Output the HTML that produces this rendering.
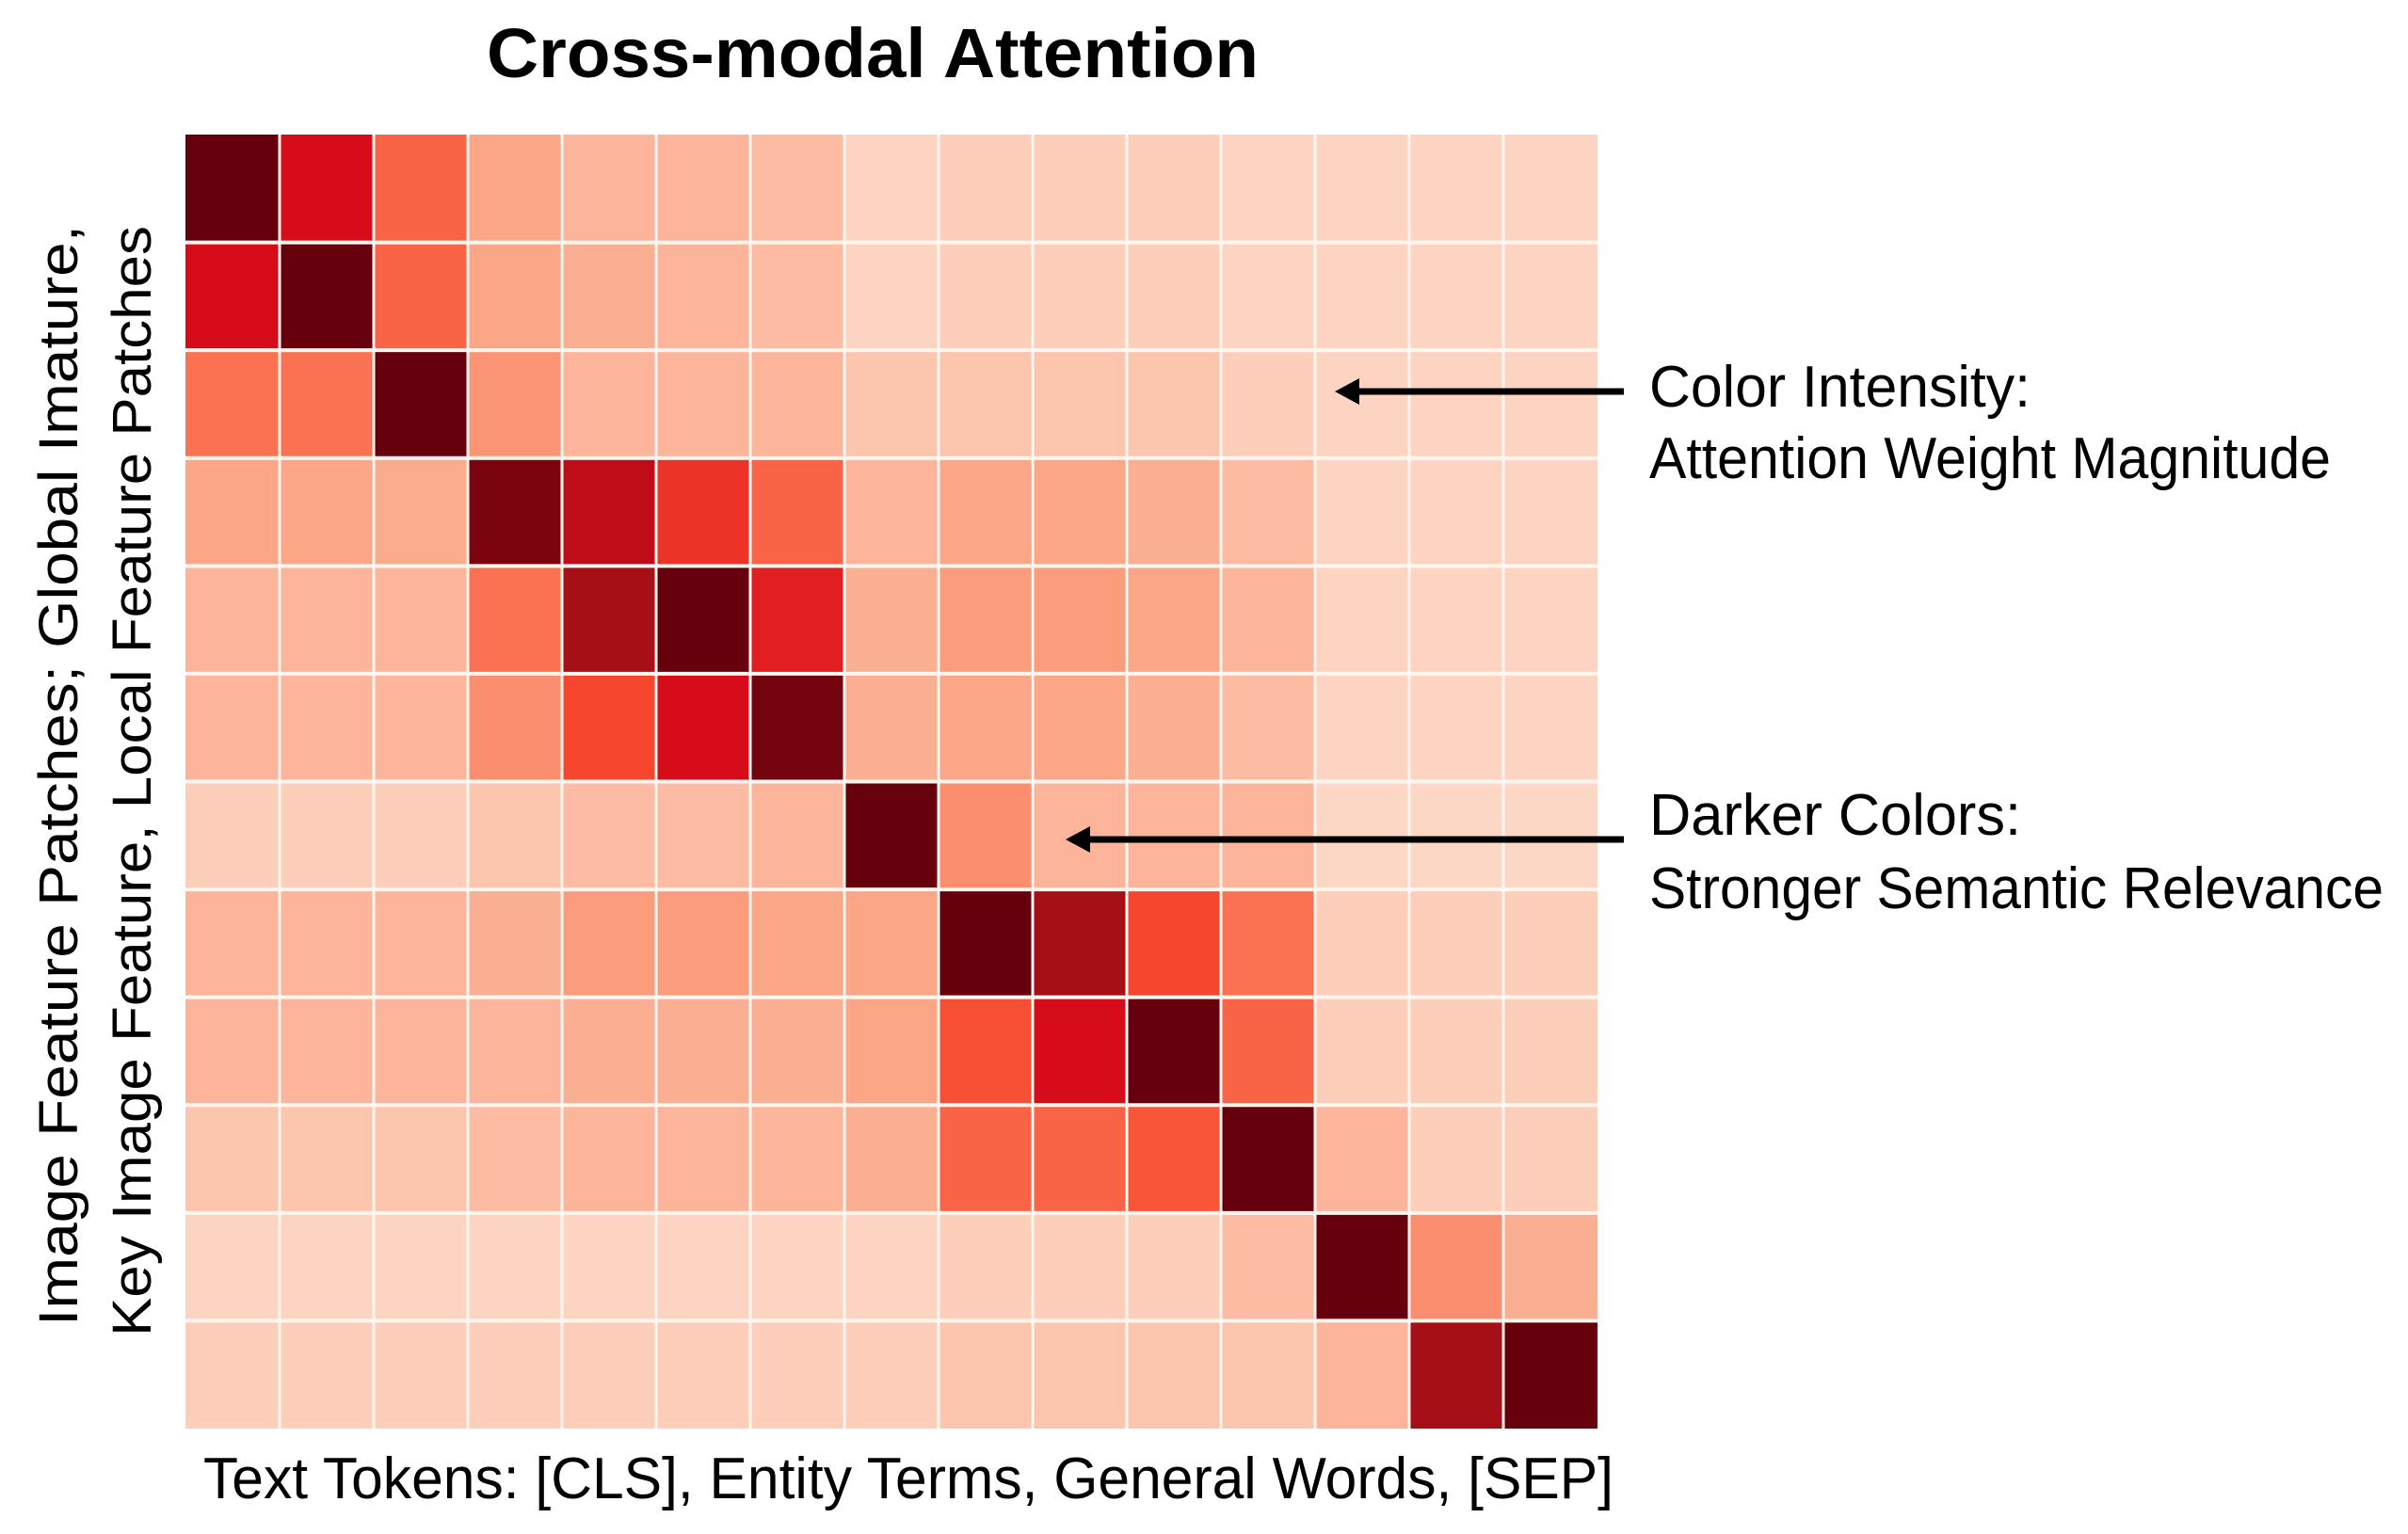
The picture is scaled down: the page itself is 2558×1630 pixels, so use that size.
<!DOCTYPE html>
<html><head><meta charset="utf-8">
<style>
html,body{margin:0;padding:0;background:#fff;}
svg{display:block;font-family:"Liberation Sans",sans-serif;}
</style></head>
<body>
<svg id="chart" width="2558" height="1630" viewBox="0 0 2558 1630" xmlns="http://www.w3.org/2000/svg">
  <rect width="2558" height="1630" fill="#fff"/>
  <text x="927" y="82" text-anchor="middle" font-size="74" font-weight="bold" textLength="820" lengthAdjust="spacingAndGlyphs">Cross-modal Attention</text>
  <g id="cells"></g>
  <g id="gridlines"></g>
  <text transform="translate(82,824) rotate(-90)" text-anchor="middle" font-size="58" textLength="1170" lengthAdjust="spacingAndGlyphs">Image Feature Patches; Global Imature,</text>
  <text transform="translate(160,830) rotate(-90)" text-anchor="middle" font-size="58" textLength="1180" lengthAdjust="spacingAndGlyphs">Key Image Feature,  Local Feature Patches</text>
  <text x="216" y="1592" font-size="62" textLength="1498" lengthAdjust="spacingAndGlyphs">Text Tokens: [CLS], Entity Terms, General Words, [SEP]</text>
  <g>
    <line x1="1725" y1="416" x2="1438" y2="416" stroke="#000" stroke-width="7"/>
    <polygon points="1418,416 1444,402 1444,430" fill="#000"/>
    <text x="1752" y="432" font-size="62" textLength="405" lengthAdjust="spacingAndGlyphs">Color Intensity:</text>
    <text x="1752" y="508" font-size="62" textLength="724" lengthAdjust="spacingAndGlyphs">Attention Weight Magnitude</text>
  </g>
  <g>
    <line x1="1725" y1="892" x2="1152" y2="892" stroke="#000" stroke-width="7"/>
    <polygon points="1132,892 1158,878 1158,906" fill="#000"/>
    <text x="1752" y="887" font-size="62" textLength="395" lengthAdjust="spacingAndGlyphs">Darker Colors:</text>
    <text x="1752" y="965" font-size="62" textLength="780" lengthAdjust="spacingAndGlyphs">Stronger Semantic Relevance</text>
  </g>
</svg>
<script>
// Data: attention weights, rows = image features, cols = text tokens
const rowLabels = ["r1","r2","r3","r4","r5","r6","r7","r8","r9","r10","r11","r12"];
const colLabels = ["t1","t2","t3","t4","t5","t6","t7","t8","t9","t10","t11","t12","t13","t14","t15"];
const row0 = [1.0,0.8,0.55,0.35,0.3,0.3,0.28,0.2,0.22,0.22,0.22,0.2,0.2,0.2,0.2];
const row1 = [0.8,1.0,0.55,0.35,0.32,0.3,0.28,0.2,0.22,0.22,0.22,0.2,0.2,0.2,0.2];
const row2 = [0.5,0.5,1.0,0.4,0.3,0.3,0.3,0.25,0.25,0.25,0.25,0.22,0.2,0.2,0.2];
const row3 = [0.35,0.35,0.33,0.97,0.85,0.7,0.55,0.3,0.35,0.35,0.32,0.28,0.2,0.2,0.2];
const row4 = [0.3,0.3,0.3,0.5,0.9,1.0,0.75,0.32,0.38,0.38,0.35,0.3,0.2,0.2,0.2];
const row5 = [0.3,0.3,0.3,0.42,0.65,0.8,0.98,0.32,0.35,0.35,0.32,0.28,0.2,0.2,0.2];
const row6 = [0.22,0.22,0.22,0.25,0.28,0.28,0.3,1.0,0.42,0.3,0.3,0.3,0.18,0.18,0.18];
const row7 = [0.3,0.3,0.3,0.32,0.38,0.38,0.35,0.35,1.0,0.9,0.65,0.5,0.22,0.22,0.22];
const row8 = [0.3,0.3,0.3,0.3,0.32,0.32,0.32,0.35,0.62,0.8,1.0,0.55,0.22,0.22,0.22];
const row9 = [0.25,0.25,0.25,0.28,0.3,0.3,0.3,0.32,0.55,0.55,0.6,1.0,0.3,0.22,0.22];
const row10 = [0.2,0.2,0.2,0.2,0.2,0.2,0.2,0.2,0.22,0.22,0.22,0.28,1.0,0.42,0.32];
const row11 = [0.22,0.22,0.22,0.22,0.22,0.22,0.22,0.22,0.25,0.25,0.25,0.25,0.3,0.9,1.0];
const values = [row0,row1,row2,row3,row4,row5,row6,row7,row8,row9,row10,row11];

const X0 = 197, X1 = 1697, Y0 = 143, Y1 = 1518;
const cw = (X1 - X0) / colLabels.length, rh = (Y1 - Y0) / rowLabels.length;
function xScale(i){ return X0 + i * cw; }
function yScale(j){ return Y0 + j * rh; }
const stops = [[0,[255,240,232]],[0.2,[253,212,194]],[0.35,[251,166,134]],[0.5,[251,114,82]],[0.65,[246,70,45]],[0.8,[214,12,26]],[0.9,[165,15,21]],[1,[103,0,13]]];
function colorOf(v){
  for (let k = 1; k < stops.length; k++) {
    if (v <= stops[k][0]) {
      const a = stops[k-1], b = stops[k], t = (v - a[0]) / (b[0] - a[0]);
      const c = a[1].map((x, i) => Math.round(x + (b[1][i] - x) * t));
      return "rgb(" + c.join(",") + ")";
    }
  }
  return "rgb(103,0,13)";
}
const NS = "http://www.w3.org/2000/svg";
const cells = document.getElementById("cells");
values.forEach((row, j) => {
  row.forEach((v, i) => {
    const r = document.createElementNS(NS, "rect");
    r.setAttribute("x", xScale(i));
    r.setAttribute("y", yScale(j));
    r.setAttribute("width", cw);
    r.setAttribute("height", rh);
    r.setAttribute("fill", colorOf(v));
    
    
    cells.appendChild(r);
  });
});
const grid = document.getElementById("gridlines");
for (let i = 1; i < colLabels.length; i++) {
  const l = document.createElementNS(NS, "line");
  l.setAttribute("x1", xScale(i)); l.setAttribute("x2", xScale(i));
  l.setAttribute("y1", Y0); l.setAttribute("y2", Y1);
  l.setAttribute("stroke", "#fff6f0"); l.setAttribute("stroke-width", "3");
  
  
  grid.appendChild(l);
}
for (let j = 1; j < rowLabels.length; j++) {
  const l = document.createElementNS(NS, "line");
  l.setAttribute("x1", X0); l.setAttribute("x2", X1);
  l.setAttribute("y1", yScale(j)); l.setAttribute("y2", yScale(j));
  l.setAttribute("stroke", "#fff6f0"); l.setAttribute("stroke-width", "4");
  
  
  grid.appendChild(l);
}
</script>
</body></html>
